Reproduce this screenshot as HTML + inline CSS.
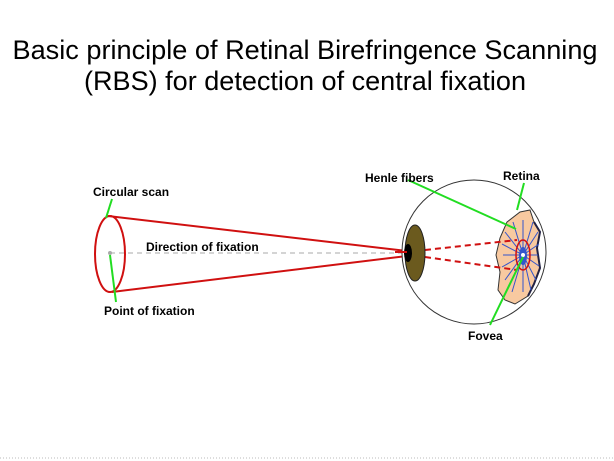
<!DOCTYPE html>
<html><head><style>html,body{margin:0;padding:0;background:#fff}svg{display:block}</style></head>
<body>
<svg width="614" height="461" viewBox="0 0 614 461" xmlns="http://www.w3.org/2000/svg" font-family="Liberation Sans, Arial, sans-serif">
<text x="305" y="59" font-size="27" text-anchor="middle" textLength="585" lengthAdjust="spacingAndGlyphs">Basic principle of Retinal Birefringence Scanning</text>
<text x="305" y="90" font-size="27" text-anchor="middle" textLength="442" lengthAdjust="spacingAndGlyphs">(RBS) for detection of central fixation</text>

<!-- dashed direction line -->
<line x1="110" y1="253" x2="405" y2="253" stroke="#aaa" stroke-width="1" stroke-dasharray="5,4"/>
<!-- cone -->
<line x1="108" y1="216" x2="407" y2="251" stroke="#d01010" stroke-width="2"/>
<line x1="112" y1="292" x2="407" y2="256" stroke="#d01010" stroke-width="2"/>
<ellipse cx="110" cy="254" rx="15" ry="38" fill="none" stroke="#d01010" stroke-width="2"/>
<circle cx="110" cy="253" r="2" fill="#aaa"/>
<!-- green pointers -->
<line x1="112" y1="199" x2="106" y2="218" stroke="#22dd22" stroke-width="2"/>
<line x1="110" y1="255" x2="116" y2="302" stroke="#22dd22" stroke-width="2"/>
<text x="93" y="196" font-size="12" font-weight="bold">Circular scan</text>
<text x="146" y="251" font-size="12" font-weight="bold">Direction of fixation</text>
<text x="104" y="315" font-size="12" font-weight="bold">Point of fixation</text>

<!-- eye -->
<circle cx="474" cy="252" r="72" fill="#fff" stroke="#333" stroke-width="1"/>
<!-- retina -->
<path d="M507,222 L520,212 L530,210 L534,222 L540,232 L537,248 L540,268 L534,284 L528,296 L515,304 L505,300 L498,290 L500,272 L496,255 L500,238 Z" fill="#f8c9a0" stroke="#333" stroke-width="1"/>
<path d="M534,222 L540,232 L537,248 L540,268 L534,284 L528,296" fill="none" stroke="#224" stroke-width="2"/>
<g stroke="#3355cc" stroke-width="1">
<line x1="523" y1="255" x2="523" y2="220"/><line x1="523" y1="255" x2="523" y2="292"/>
<line x1="523" y1="255" x2="505" y2="232"/><line x1="523" y1="255" x2="538" y2="232"/>
<line x1="523" y1="255" x2="503" y2="255"/><line x1="523" y1="255" x2="538" y2="255"/>
<line x1="523" y1="255" x2="505" y2="280"/><line x1="523" y1="255" x2="536" y2="280"/>
<line x1="523" y1="255" x2="513" y2="222"/><line x1="523" y1="255" x2="533" y2="222"/>
<line x1="523" y1="255" x2="512" y2="292"/><line x1="523" y1="255" x2="531" y2="290"/>
<line x1="523" y1="255" x2="502" y2="244"/><line x1="523" y1="255" x2="539" y2="244"/>
<line x1="523" y1="255" x2="502" y2="267"/><line x1="523" y1="255" x2="539" y2="266"/>
</g>
<ellipse cx="523" cy="256" rx="4" ry="9" fill="#3355cc"/>
<circle cx="523" cy="255" r="2" fill="#fff"/>
<ellipse cx="523" cy="255" rx="7" ry="15" fill="none" stroke="#d01010" stroke-width="1.5"/>
<!-- red dashed -->
<g stroke="#d01010" stroke-width="2" stroke-dasharray="6,4">
<line x1="425" y1="250" x2="517" y2="240"/>
<line x1="425" y1="257" x2="517" y2="270"/>
</g>
<!-- lens -->
<ellipse cx="415" cy="253" rx="10" ry="28" fill="#6b5a1e" stroke="#222" stroke-width="1"/>
<ellipse cx="408" cy="253" rx="4" ry="9" fill="#000"/>
<line x1="395" y1="252" x2="407" y2="252" stroke="#d01010" stroke-width="2"/>
<!-- pointers -->
<g stroke="#22dd22" stroke-width="2">
<line x1="408" y1="180" x2="516" y2="229"/>
<line x1="524" y1="183" x2="517" y2="210"/>
<line x1="523" y1="257" x2="490" y2="325"/>
</g>
<text x="365" y="182" font-size="12" font-weight="bold">Henle fibers</text>
<text x="503" y="180" font-size="12" font-weight="bold">Retina</text>
<text x="468" y="340" font-size="12" font-weight="bold">Fovea</text>

<line x1="0" y1="458" x2="614" y2="458" stroke="#bbb" stroke-width="1" stroke-dasharray="1,2"/>
</svg>
</body></html>
